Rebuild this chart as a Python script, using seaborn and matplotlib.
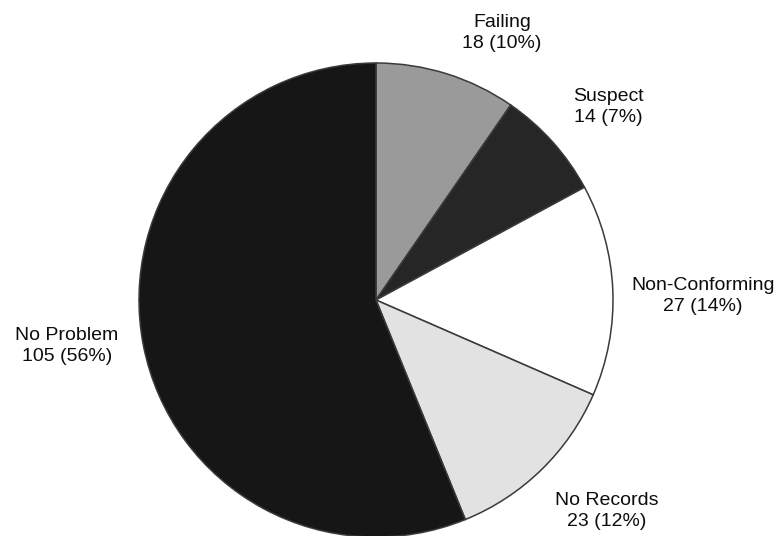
import matplotlib
matplotlib.use("Agg")
import matplotlib.pyplot as plt
import seaborn as sns

# Inspection outcome counts
categories = ["Failing", "Suspect", "Non-Conforming", "No Records", "No Problem"]
counts = [18, 14, 27, 23, 105]
percent_labels = ["10%", "7%", "14%", "12%", "56%"]

sns.set_theme(style="white")
plt.rcParams["font.family"] = ["Liberation Sans", "DejaVu Sans"]

# Grey fills for each wedge, in drawing order
fills = ["#9a9a9a", "#262626", "#ffffff", "#e2e2e2", "#161616"]

# Label anchor positions (in pie-radius units)
label_xy = [(0.532, 1.127), (0.979, 0.814), (1.380, 0.017),
            (0.975, -0.890), (-1.304, -0.194)]

W, H = 783, 536
cx, cy, R = 376, 300, 237  # pixel centre and radius

fig = plt.figure(figsize=(W / 100, H / 100), dpi=100)
ax = fig.add_axes([0, 0, 1, 1])

ax.pie(
    counts,
    colors=fills,
    startangle=90,
    counterclock=False,
    radius=1.0,
    wedgeprops=dict(edgecolor="#3a3a3a", linewidth=1.1),
)

ax.set_aspect("auto")
ax.set_xlim(-cx / R, (W - cx) / R)
ax.set_ylim(-(H - cy) / R, cy / R)
ax.axis("off")

for name, n, pct, (x, y) in zip(categories, counts, percent_labels, label_xy):
    ax.text(x, y, f"{name}\n{n} ({pct})", ha="center", va="center",
            fontsize=14, color="#0d0d0d", linespacing=1.3)

fig.savefig("out.png", dpi=100, facecolor="white")
